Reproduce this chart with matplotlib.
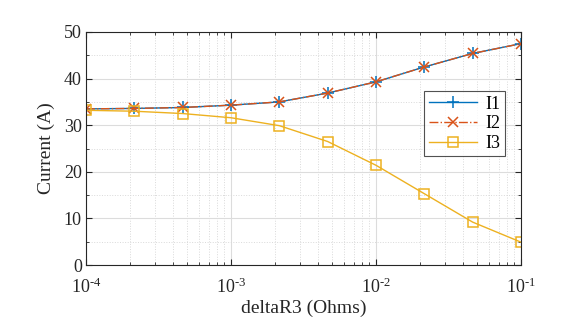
import numpy as np
import matplotlib
matplotlib.use('Agg')
import matplotlib.pyplot as plt
from matplotlib.ticker import LogLocator, MultipleLocator, NullFormatter, FuncFormatter

# data
deltaR3 = [1e-4, 2.154e-4, 4.642e-4, 1e-3, 2.154e-3, 4.642e-3, 1e-2, 2.154e-2, 4.642e-2, 1e-1]
I1 = [33.5, 33.6, 33.8, 34.3, 35.0, 36.9, 39.3, 42.5, 45.4, 47.5]
I2 = [33.5, 33.6, 33.8, 34.3, 35.0, 36.9, 39.3, 42.5, 45.4, 47.5]
I3 = [33.2, 33.0, 32.5, 31.6, 29.9, 26.5, 21.4, 15.3, 9.2, 4.9]

plt.rcParams['font.family'] = ['Liberation Serif', 'DejaVu Serif']
plt.rcParams['mathtext.fontset'] = 'custom'
plt.rcParams['mathtext.rm'] = 'Liberation Serif'
plt.rcParams['mathtext.it'] = 'Liberation Serif'

fig = plt.figure(figsize=(5.62, 3.23), dpi=100)
ax = fig.add_axes([86/562, 1-265/323, (521-86)/562, (265-32)/323])

ax.plot(deltaR3, I1, '-', color='#0072BD', marker='+', ms=8, mew=1.1, lw=1, label='I1')
ax.plot(deltaR3, I2, '-.', color='#D95319', marker='x', ms=7, mew=1.1, lw=1, label='I2')
ax.plot(deltaR3, I3, '-', color='#EDB120', marker='s', ms=6.5, mfc='none', mew=1.1, lw=1, label='I3')

ax.set_xscale('log')
ax.set_xlim(1e-4, 1e-1)
ax.set_ylim(0, 50)
ax.yaxis.set_major_locator(MultipleLocator(10))
ax.yaxis.set_minor_locator(MultipleLocator(5))
ax.xaxis.set_minor_locator(LogLocator(base=10, subs=np.arange(2, 10)))
ax.xaxis.set_minor_formatter(NullFormatter())
ax.xaxis.set_major_formatter(FuncFormatter(
    lambda v, p: r'$\mathrm{10}^{\text{%d}}$' % round(np.log10(v)) if v > 0 else ''))

ax.grid(True, which='major', color='#dcdcdc', lw=0.8, ls='-')
ax.grid(True, which='minor', color='#d9d9d9', lw=0.7, ls=':')
ax.set_axisbelow(True)

ax.tick_params(which='both', direction='in', top=True, right=True, labelsize=13, colors='#262626')
ax.tick_params(which='major', length=4)
ax.tick_params(which='minor', length=2)
ax.tick_params(axis='x', pad=9)
ax.tick_params(axis='y', pad=3)
for s in ax.spines.values():
    s.set_color('#262626')
    s.set_linewidth(0.8)

ax.set_xlabel('deltaR3 (Ohms)', fontsize=14, color='#262626', labelpad=2)
ax.set_ylabel('Current (A)', fontsize=14, color='#262626', labelpad=6)

leg = ax.legend(loc='upper left', bbox_to_anchor=((424-86)/435, (265-91)/233),
                borderaxespad=0, fontsize=13, frameon=True, fancybox=False,
                edgecolor='#262626', handlelength=2.7, borderpad=0.25,
                labelspacing=0.15, handletextpad=0.45)
leg.get_frame().set_linewidth(0.8)

fig.savefig('out.png', dpi=100)
